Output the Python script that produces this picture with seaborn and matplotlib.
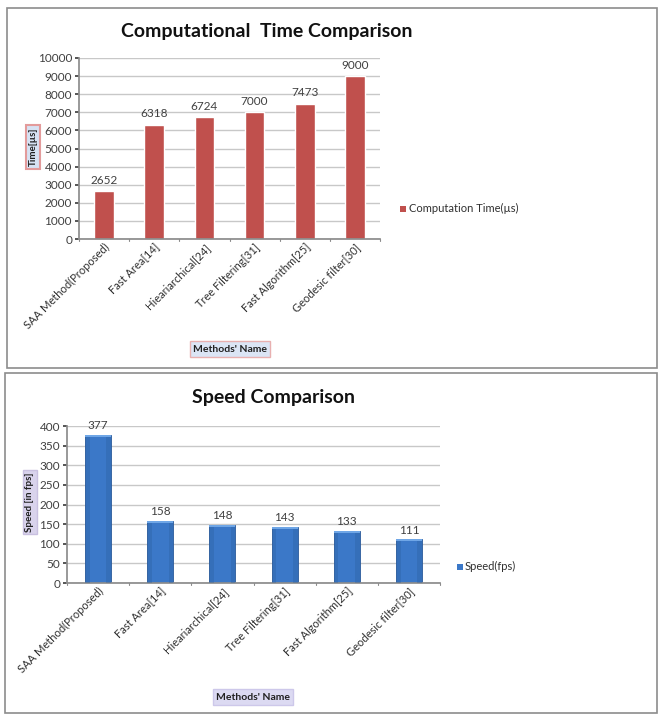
import matplotlib
matplotlib.use("Agg")
import matplotlib.pyplot as plt
import seaborn as sns
import pandas as pd
from matplotlib.patches import Rectangle

methods = ["SAA Method(Proposed)", "Fast Area[14]", "Hieariarchical[24]",
           "Tree Filtering[31]", "Fast Algorithm[25]", "Geodesic filter[30]"]
comp_time = [2652, 6318, 6724, 7000, 7473, 9000]
speed = [377, 158, 148, 143, 133, 111]
time_ticks = list(range(0, 10001, 1000))
speed_ticks = list(range(0, 401, 50))

sns.set_theme(style="white")
plt.rcParams['font.family'] = ['Lato', 'DejaVu Sans']

W, H = 659, 715
fig = plt.figure(figsize=(W / 100, H / 100), dpi=100)

def fx(px):
    return px / W

def fy(py):
    return 1 - py / H

# panel frames
for (x0, y0, x1, y1) in [(7, 8, 657, 368), (5, 373, 657, 713)]:
    fig.patches.append(Rectangle((fx(x0), fy(y1)), fx(x1) - fx(x0), fy(y0) - fy(y1),
                                 transform=fig.transFigure, fill=False,
                                 edgecolor="#8c8c8c", linewidth=1.2))

def style_axes(ax, ticks, fmt_top):
    ax.set_yticks(ticks)
    ax.set_ylim(ticks[0], ticks[-1])
    ax.yaxis.grid(True, color="#c8c8c8", linewidth=1)
    ax.set_axisbelow(True)
    for s in ["top", "right"]:
        ax.spines[s].set_visible(False)
    ax.spines["left"].set_color("#8c8c8c")
    ax.spines["bottom"].set_color("#8c8c8c")
    ax.tick_params(axis="y", labelsize=8.5, colors="#404040", length=3, left=True,
                   direction="out", pad=2)
    ax.tick_params(axis="x", labelsize=8, colors="#303030", length=0, pad=2)
    plt.setp(ax.get_xticklabels(), rotation=45, ha="right", rotation_mode="anchor")
    n = len(methods)
    for b in range(n + 1):
        ax.plot([b - 0.5, b - 0.5], [0, -0.012 * ticks[-1]], color="#8c8c8c",
                lw=0.8, clip_on=False)
    ax.set_xlim(-0.5, n - 0.5)
    ax.set_xlabel("")
    ax.set_ylabel("")

# ---- top chart ----
ax1 = fig.add_axes([fx(79), fy(239), fx(380) - fx(79), fy(58) - fy(239)])
df1 = pd.DataFrame({"Method": methods, "Time": comp_time})
sns.barplot(data=df1, x="Method", y="Time", color="#C0504D", saturation=1,
            width=0.39, ax=ax1)
style_axes(ax1, time_ticks, None)
for i, v in enumerate(comp_time):
    ax1.text(i, v + 300, str(v), ha="center", va="bottom", fontsize=8.5, color="#404040")
fig.text(fx(267), fy(31), "Computational  Time Comparison", ha="center", va="center",
         fontsize=14, fontweight="bold", color="#111111")
fig.text(fx(33), fy(147), "Time[µs]", rotation=90, ha="center", va="center",
         fontsize=7, fontweight="bold", color="#202020",
         bbox=dict(boxstyle="square,pad=0.25", facecolor="#d6e2f3", edgecolor="#e39b9b", lw=1.5))
fig.text(fx(230), fy(349), "Methods' Name", ha="center", va="center",
         fontsize=7.5, fontweight="bold", color="#202020",
         bbox=dict(boxstyle="square,pad=0.3", facecolor="#dbe5f5", edgecolor="#e8b0b0", lw=1))
fig.patches.append(Rectangle((fx(400), fy(212)), fx(6), 6 / H, transform=fig.transFigure,
                             facecolor="#C0504D", edgecolor="none"))
fig.text(fx(409), fy(208), "Computation Time(µs)", ha="left", va="center",
         fontsize=8, color="#303030")

# ---- bottom chart ----
ax2 = fig.add_axes([fx(67), fy(583), fx(440) - fx(67), fy(426) - fy(583)])
df2 = pd.DataFrame({"Method": methods, "Speed": speed})
sns.barplot(data=df2, x="Method", y="Speed", color="#3B78C8", saturation=1,
            width=0.42, ax=ax2, edgecolor="#2a5a9a", linewidth=0.6)
style_axes(ax2, speed_ticks, None)
for p in ax2.patches:
    x0 = p.get_x()
    w = p.get_width()
    h = p.get_height()
    ax2.add_patch(Rectangle((x0, h - 5), w, 5, facecolor="#6fa6e6", edgecolor="none", zorder=3))
    ax2.add_patch(Rectangle((x0, 0), w * 0.18, h - 5, facecolor="#2c5f9f", alpha=0.35,
                            edgecolor="none", zorder=3))
    ax2.add_patch(Rectangle((x0 + w * 0.82, 0), w * 0.18, h - 5, facecolor="#2c5f9f",
                            alpha=0.35, edgecolor="none", zorder=3))
for i, v in enumerate(speed):
    ax2.text(i, v + 10, str(v), ha="center", va="bottom", fontsize=8.5, color="#404040")
fig.text(fx(273), fy(398), "Speed Comparison", ha="center", va="center",
         fontsize=14, fontweight="bold", color="#111111")
fig.text(fx(30), fy(502), "Speed [in fps]", rotation=90, ha="center", va="center",
         fontsize=7, fontweight="bold", color="#202020",
         bbox=dict(boxstyle="square,pad=0.25", facecolor="#d9d3ec", edgecolor="#c9c0e0", lw=1))
fig.text(fx(253), fy(697), "Methods' Name", ha="center", va="center",
         fontsize=7.5, fontweight="bold", color="#202020",
         bbox=dict(boxstyle="square,pad=0.3", facecolor="#dcdaf2", edgecolor="#cdc8ea", lw=1))
fig.patches.append(Rectangle((fx(457), fy(570)), fx(6), 6 / H, transform=fig.transFigure,
                             facecolor="#3B78C8", edgecolor="none"))
fig.text(fx(465), fy(566), "Speed(fps)", ha="left", va="center",
         fontsize=8, color="#303030")

fig.savefig("out.png", dpi=100, facecolor="white")
